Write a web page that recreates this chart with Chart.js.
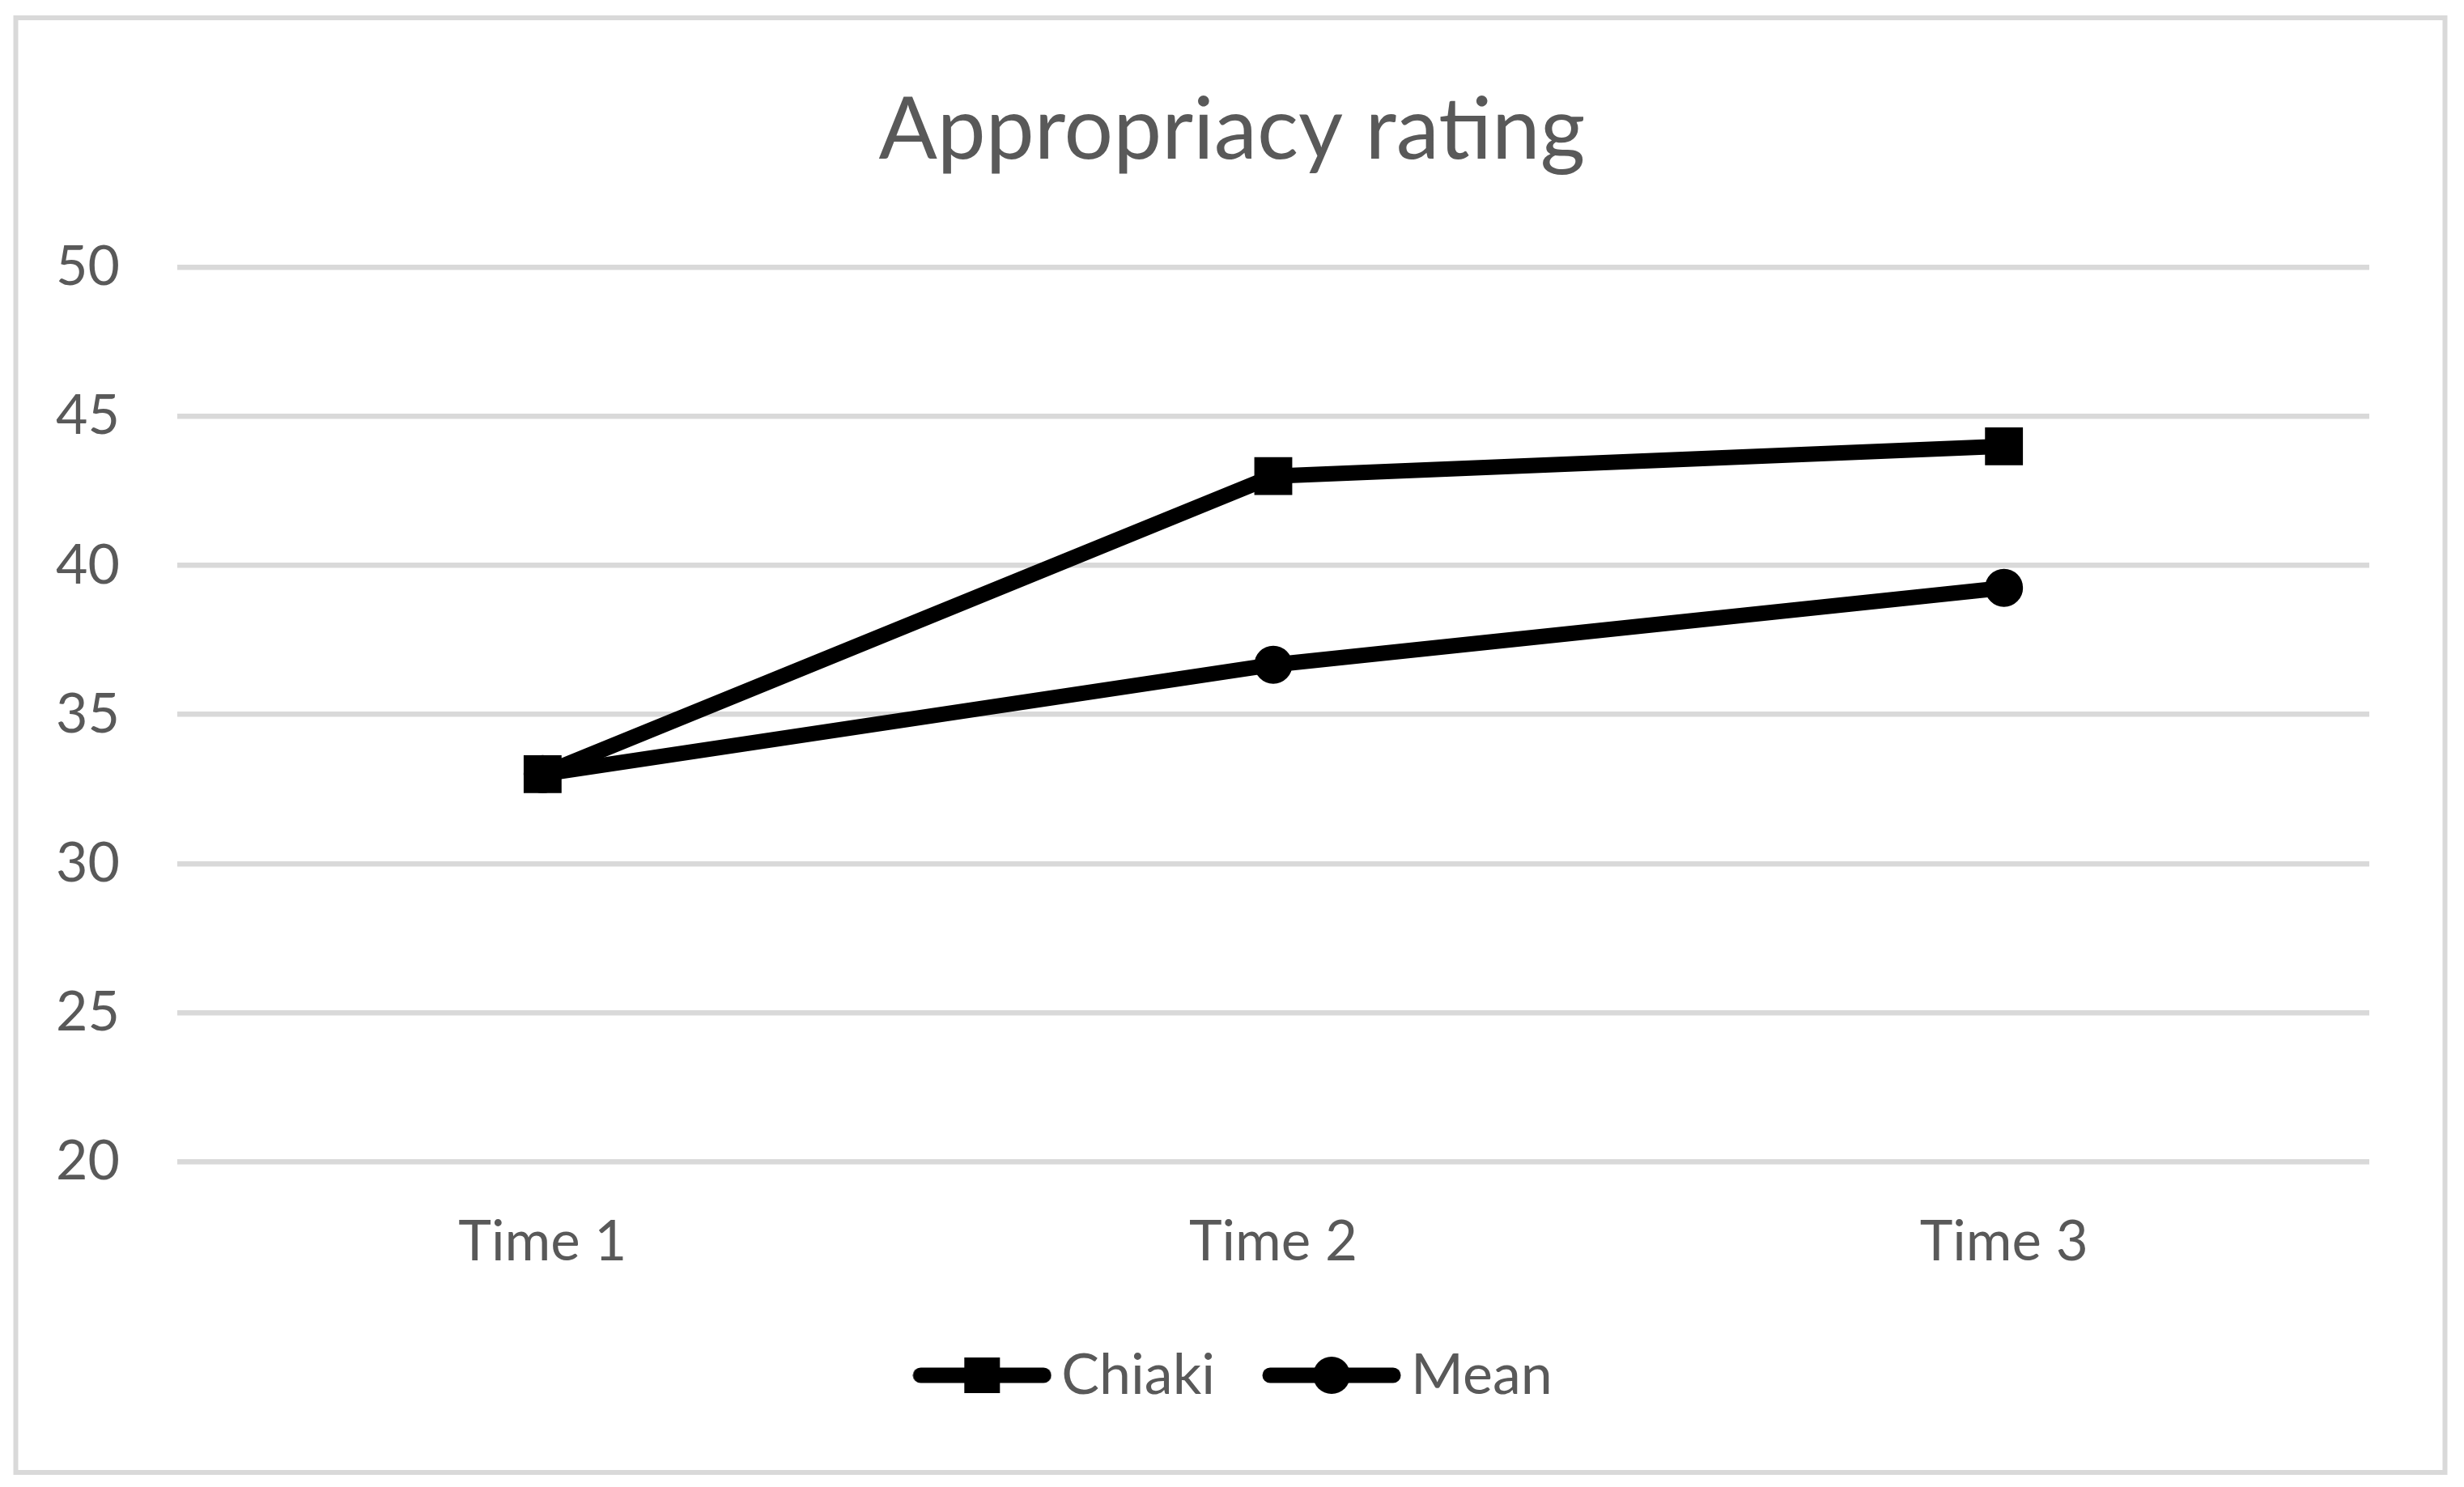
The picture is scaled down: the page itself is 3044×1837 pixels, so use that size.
<!DOCTYPE html>
<html>
<head>
<meta charset="utf-8">
<script src="https://cdn.jsdelivr.net/npm/chart.js@4.4.1/dist/chart.umd.min.js"></script>
<style>
  html, body { margin: 0; padding: 0; background: #ffffff; }
  #wrap { width: 3044px; height: 1837px; }
</style>
</head>
<body>
<div id="wrap"><canvas id="chart" width="3044" height="1837"></canvas></div>
<script>
// values
const timeLabels = ["Time 1", "Time 2", "Time 3"];
const chiakiValues = [33, 43, 44];
const meanValues = [33, 36.67, 39.25];
const yTicks = [20, 25, 30, 35, 40, 45, 50];

const textColor = "#595959";
const gridColor = "#d9d9d9";
const fontFamily = "Lato, 'Open Sans', sans-serif";

// little legend symbol: thick line with the marker in the middle
function legendSymbol(style) {
    const c = document.createElement("canvas");
    c.width = 172;
    c.height = 50;
    const g = c.getContext("2d");
    g.strokeStyle = "#000";
    g.fillStyle = "#000";
    g.lineWidth = 19;
    g.lineCap = "round";
    g.beginPath();
    g.moveTo(10, 25);
    g.lineTo(162, 25);
    g.stroke();
    if (style === "rect") {
        g.fillRect(86 - 22, 25 - 22, 44, 44);
    } else {
        g.beginPath();
        g.arc(86, 25, 23, 0, Math.PI * 2);
        g.fill();
    }
    return c;
}

const frame = {
    id: "frame",
    beforeDraw(chart) {
        const g = chart.ctx;
        g.save();
        g.fillStyle = "#fff";
        g.fillRect(0, 0, chart.width, chart.height);
        g.strokeStyle = gridColor;
        g.lineWidth = 6;
        g.strokeRect(19.5, 22, 3001, 1797);
        g.restore();
    },
    afterLayout(chart) {
        // the legend sits a little right of centre in the original
        chart.legend.left += 12;
        chart.legend.right += 12;
    }
};

const ctx = document.getElementById("chart").getContext("2d");

new Chart(ctx, {
    type: "line",
    data: {
        labels: timeLabels,
        datasets: [
            {
                label: "Chiaki",
                data: chiakiValues,
                borderColor: "#000",
                backgroundColor: "#000",
                borderWidth: 19,
                pointStyle: "rect",
                pointRadius: 31,
                pointBorderWidth: 3,
                pointBorderColor: "#000",
                pointBackgroundColor: "#000",
                fill: false,
                tension: 0
            },
            {
                label: "Mean",
                data: meanValues,
                borderColor: "#000",
                backgroundColor: "#000",
                borderWidth: 19,
                pointStyle: "circle",
                pointRadius: 22,
                pointBorderWidth: 3,
                pointBorderColor: "#000",
                pointBackgroundColor: "#000",
                fill: false,
                tension: 0
            }
        ]
    },
    options: {
        responsive: false,
        animation: false,
        layout: {
            padding: { left: 0, right: 0, top: 0, bottom: 93 }
        },
        scales: {
            x: {
                type: "category",
                offset: true,
                grid: { display: false, drawTicks: false },
                border: { display: false },
                ticks: {
                    color: textColor,
                    font: { family: fontFamily, size: 69 },
                    padding: 58,
                    maxRotation: 0
                },
                afterFit(scale) { scale.height = 148; }
            },
            y: {
                min: 20,
                max: 50,
                afterBuildTicks(scale) {
                    scale.ticks = yTicks.map(v => ({ value: v }));
                },
                grid: { color: gridColor, lineWidth: 6.5, drawTicks: false },
                border: { display: false },
                ticks: {
                    color: textColor,
                    font: { family: fontFamily, size: 68 },
                    padding: 71
                },
                afterFit(scale) { scale.width = 219; }
            },
            // empty axis on the right, only to keep the white margin there
            spacer: {
                position: "right",
                grid: { display: false, drawTicks: false },
                border: { display: false },
                ticks: { display: false },
                afterFit(scale) { scale.width = 117; }
            }
        },
        plugins: {
            title: {
                display: true,
                text: "Appropriacy rating",
                color: textColor,
                font: { family: fontFamily, size: 107, weight: "normal" },
                padding: { top: 97, bottom: 105 }
            },
            legend: {
                position: "bottom",
                labels: {
                    color: textColor,
                    font: { family: fontFamily, size: 70 },
                    usePointStyle: true,
                    pointStyleWidth: 126,
                    padding: 81,
                    generateLabels(chart) {
                        return chart.data.datasets.map((ds, i) => ({
                            text: ds.label,
                            fontColor: textColor,
                            pointStyle: legendSymbol(ds.pointStyle),
                            datasetIndex: i,
                            hidden: false,
                            lineWidth: 0
                        }));
                    }
                }
            },
            tooltip: { enabled: false }
        }
    },
    plugins: [frame]
});
</script>
</body>
</html>
